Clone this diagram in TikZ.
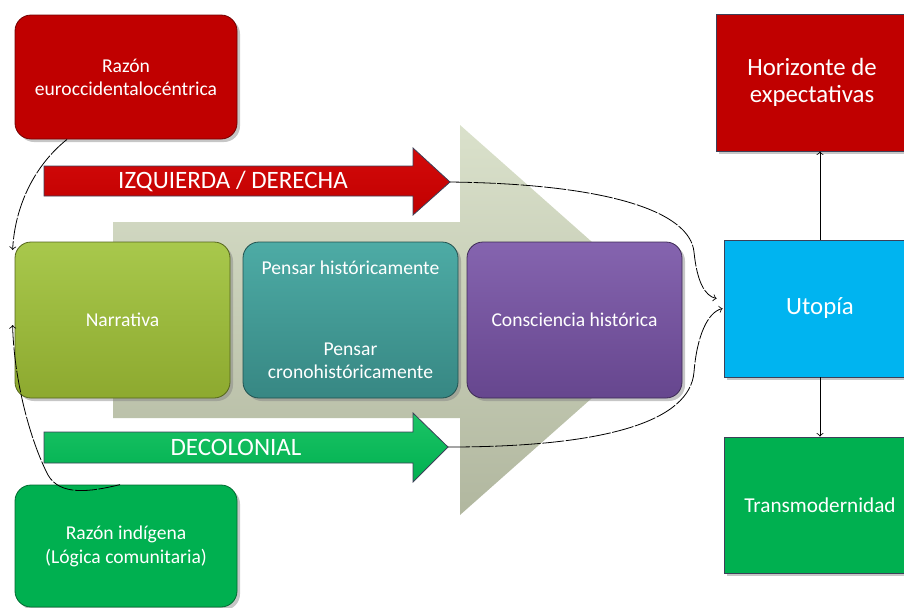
\documentclass[tikz,border=0pt]{standalone}
\usepackage{fontspec}
\setmainfont{Carlito}
\usetikzlibrary{shadows}
\definecolor{RED_BOX}{HTML}{C00000}
\definecolor{RED_TOP}{HTML}{D40A0A}
\definecolor{OLIVE_TOP}{HTML}{A8C84C}
\definecolor{OLIVE_BOT}{HTML}{8DA92F}
\definecolor{TEAL_TOP}{HTML}{4DABA5}
\definecolor{TEAL_BOT}{HTML}{378783}
\definecolor{PURPLE_TOP}{HTML}{8564AF}
\definecolor{PURPLE_BOT}{HTML}{66468E}
\definecolor{GREEN_BOX}{HTML}{00B050}
\definecolor{GREEN_TOP}{HTML}{1CC466}
\definecolor{SKY}{HTML}{00B4F0}
\definecolor{BG_TOP}{HTML}{DAE1CB}
\definecolor{BG_BOT}{HTML}{B1B79F}
\definecolor{EDGE}{HTML}{3C4058}
\tikzset{
	every node/.style = {font=\fontsize{9.8}{11.5}\selectfont, text=white},
	boxshadow/.style = {drop shadow={shadow xshift=1.5pt, shadow yshift=-1.5pt, opacity=.45}},
	roundbox/.style = {boxshadow, rounded corners=8pt, align=center,
		minimum width=107.5pt, minimum height=78pt, draw=#1!60!black, thin},
	flatbox/.style = {boxshadow, align=center, minimum width=96pt, minimum height=68.5pt,
		draw=EDGE, thin},
	bigtext/.style = {font=\fontsize{12.5}{13.5}\selectfont},
	link/.style = {->, thin, dash pattern=on 11pt off 0.8pt}
}

\begin{document}
\begin{tikzpicture}[x=0.5pt, y=-0.5pt, >=to]
	\useasboundingbox (0,0) rectangle (904,607);
	% big arrow behind the boxes
	\shade[top color=BG_TOP, bottom color=BG_BOT]
		(113,222) -- (460,222) -- (460,125) -- (680,320) -- (460,515) -- (460,418) -- (113,418) -- cycle;

	% IZQUIERDA / DERECHA
	\draw[EDGE, top color=RED_TOP, bottom color=RED_BOX]
		(44,166) -- (413,166) -- (413,148) -- (450,182) coordinate (izqtip)
		-- (413,215) -- (413,196) -- (44,196) -- cycle;
	\node[bigtext] (izq) at (233,181) {IZQUIERDA / DERECHA};
	% DECOLONIAL
	\draw[EDGE, top color=GREEN_TOP, bottom color=GREEN_BOX]
		(44,432) -- (413,432) -- (413,413) -- (448,447) coordinate (decotip)
		-- (413,482) -- (413,463) -- (44,463) -- cycle;
	\node[bigtext] (deco) at (236,447) {DECOLONIAL};

	% left column
	\node[roundbox=RED_BOX, fill=RED_BOX, minimum width=111pt, minimum height=62pt]
		(euro) at (126,77) {Razón\\euroccidentalocéntrica};
	\node[roundbox=OLIVE_BOT, top color=OLIVE_TOP, bottom color=OLIVE_BOT]
		(narr) at (122.5,320) {Narrativa};
	\node[roundbox=TEAL_BOT, top color=TEAL_TOP, bottom color=TEAL_BOT]
		(pensar) at (350.5,320) {Pensar históricamente\\[29pt]Pensar\\cronohistóricamente};
	\node[roundbox=PURPLE_BOT, top color=PURPLE_TOP, bottom color=PURPLE_BOT]
		(consc) at (574.5,320) {Consciencia histórica};
	\node[roundbox=GREEN_BOX, fill=GREEN_BOX, minimum width=111pt, minimum height=61pt,
		font=\fontsize{9.8}{12}\selectfont]
		(indig) at (126,546) {Razón indígena\\(Lógica comunitaria)};

	% right column
	\node[flatbox, fill=RED_BOX, font=\fontsize{12.4}{13.5}\selectfont]
		(horiz) at (812,82.5) {Horizonte de\\expectativas};
	\node[flatbox, fill=SKY, font=\fontsize{12.4}{14}\selectfont]
		(utop) at (820,308.5) {Utopía};
	\node[flatbox, fill=GREEN_BOX, minimum height=68pt, font=\fontsize{10.6}{12}\selectfont]
		(trans) at (820,505) {Transmodernidad};

	% connectors
	\draw[->] (utop.north) -- (utop.north |- horiz.south);
	\draw[->] (utop.south) -- (trans.north);
	\draw[link] (izqtip) .. controls (610,184) and (690,212) .. (694,252)
		.. controls (697,282) and (705,296) .. ([xshift=-3.5pt,yshift=5pt]utop.west);
	\draw[link] (decotip) .. controls (610,447) and (690,420) .. (694,372)
		.. controls (697,335) and (708,312) .. ([xshift=-0.5pt]utop.west);
	\draw[link] ([xshift=-29.5pt]euro.south) .. controls (35,165) and (15,205)
		.. ([xshift=-1pt,yshift=35pt]narr.west);
	\draw[link] ([xshift=-3pt]indig.north) .. controls (90,492) and (60,496) .. (48,475)
		.. controls (30,440) and (14,380) .. ([xshift=-1pt,yshift=-2.5pt]narr.west);
\end{tikzpicture}
\end{document}
